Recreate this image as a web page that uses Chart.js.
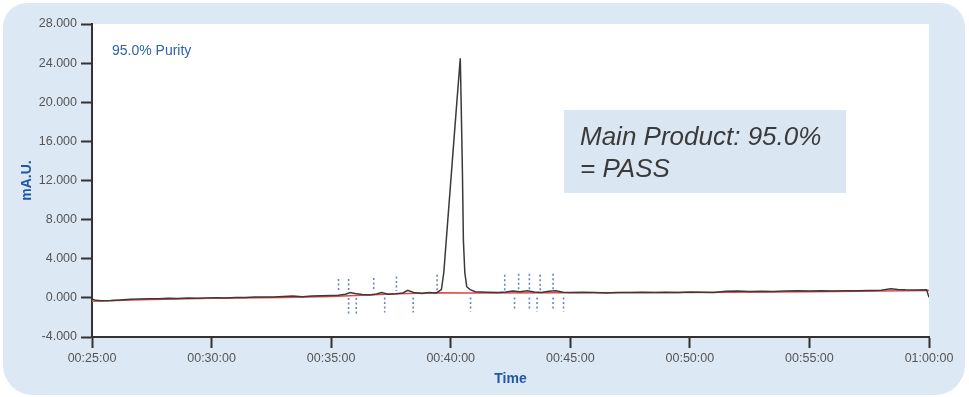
<!DOCTYPE html>
<html>
<head>
<meta charset="utf-8">
<script src="https://cdn.jsdelivr.net/npm/chart.js@4.4.1/dist/chart.umd.min.js"></script>
<style>
  html, body { margin: 0; padding: 0; background: #fff; }
  #wrap { width: 969px; height: 397px; }
</style>
</head>
<body>
<div id="wrap"><canvas id="chroma" width="969" height="397"></canvas></div>
<script>
// trace, minutes / value
const traceTime = [25.00, 25.15, 25.40, 25.80, 26.20, 26.60, 27.00, 27.40, 27.80, 28.20, 28.60, 29.00, 29.40, 29.80,
  30.20, 30.60, 31.00, 31.40, 31.80, 32.20, 32.60, 33.00, 33.40, 33.80, 34.20, 34.60, 35.00, 35.30, 35.60, 35.80,
  36.00, 36.30, 36.60, 36.90, 37.10, 37.40, 37.70, 38.00, 38.20, 38.45, 38.80, 39.10, 39.40, 39.61, 39.71, 40.03,
  40.24, 40.40, 40.43, 40.44, 40.49, 40.53, 40.59, 40.67, 40.81, 41.03, 41.50, 42.00, 42.30, 42.60, 42.90, 43.20,
  43.50, 43.80, 44.10, 44.40, 44.70, 45.00, 45.50, 46.00, 46.50, 47.00, 47.50, 48.00, 48.50, 49.00, 49.50, 50.00,
  50.50, 51.00, 51.50, 52.00, 52.50, 53.00, 53.50, 54.00, 54.50, 55.00, 55.50, 56.00, 56.50, 57.00, 57.50, 58.00,
  58.40, 58.70, 59.00, 59.50, 59.90, 60.00];
const traceValue = [-0.10, -0.25, -0.30, -0.28, -0.22, -0.15, -0.12, -0.08, -0.10, -0.05, -0.06, -0.02, -0.04, 0.00,
  0.02, 0.00, 0.05, 0.03, 0.08, 0.10, 0.08, 0.14, 0.18, 0.12, 0.20, 0.22, 0.25, 0.28, 0.38, 0.55,
  0.45, 0.35, 0.30, 0.40, 0.55, 0.38, 0.42, 0.50, 0.78, 0.55, 0.45, 0.55, 0.50, 0.84, 2.57, 12.8,
  19.5, 24.5, 24.5, 19.5, 12.8, 5.9, 2.57, 1.14, 0.84, 0.62, 0.58, 0.55, 0.60, 0.70, 0.62, 0.72,
  0.60, 0.55, 0.68, 0.72, 0.58, 0.55, 0.58, 0.55, 0.50, 0.56, 0.54, 0.57, 0.55, 0.58, 0.56, 0.60,
  0.58, 0.55, 0.68, 0.70, 0.65, 0.68, 0.66, 0.70, 0.72, 0.70, 0.72, 0.70, 0.74, 0.72, 0.75, 0.78,
  0.92, 0.85, 0.82, 0.80, 0.82, 0.05];

// baseline (red)
const baseTime = [25.0, 27.0, 30.0, 33.0, 35.0, 37.8, 39.5, 41.0, 45.0, 50.0, 55.0, 60.0];
const baseValue = [-0.35, -0.20, -0.05, 0.05, 0.15, 0.43, 0.52, 0.50, 0.52, 0.55, 0.62, 0.75];

// integration markers
const upperTime = [35.31, 35.73, 36.78, 37.73, 39.43, 42.26, 42.84, 43.29, 43.74, 44.28];
const upperTop = [1.93, 1.93, 2.03, 2.19, 2.37, 2.37, 2.47, 2.47, 2.37, 2.47];
const upperBottom = [0.6, 0.6, 0.65, 0.7, 0.7, 0.7, 0.75, 0.75, 0.75, 0.75];
const lowerTime = [35.73, 36.05, 37.24, 38.43, 40.83, 42.67, 43.29, 43.61, 44.28, 44.72];
const lowerTop = [0.0, 0.0, 0.05, 0.05, 0.05, 0.05, 0.05, 0.05, 0.05, 0.05];
const lowerBottom = [-1.75, -1.75, -1.5, -1.5, -1.4, -1.25, -1.35, -1.4, -1.35, -1.4];

const yTicks = [-4, 0, 4, 8, 12, 16, 20, 24, 28];

const pts = (xs, ys) => xs.map((x, i) => ({x: x, y: ys[i]}));
function markers(times, tops, bottoms) {
  const out = [];
  times.forEach((t, i) => {
    out.push({x: t, y: tops[i]}, {x: t, y: bottoms[i]}, {x: t, y: null});
  });
  return out;
}

function fmtTime(v) {
  const h = Math.floor(v / 60), m = Math.round(v % 60);
  const p = n => String(n).padStart(2, '0');
  return p(h) + ':' + p(m) + ':00';
}

const bgPlugin = {
  id: 'bg',
  beforeDraw(chart) {
    const ctx = chart.ctx, a = chart.chartArea;
    ctx.save();
    ctx.fillStyle = '#fff';
    ctx.fillRect(0, 0, chart.width, chart.height);
    ctx.fillStyle = '#dde8f5';
    ctx.beginPath();
    ctx.roundRect(3, 3, 962, 392, [24, 24, 30, 30]);
    ctx.fill();
    ctx.fillStyle = '#fff';
    ctx.fillRect(a.left, a.top, a.right - a.left, a.bottom - a.top);
    ctx.restore();
  },
  afterDatasetsDraw(chart) {
    const ctx = chart.ctx, a = chart.chartArea;
    ctx.save();
    ctx.fillStyle = '#2f63ad';
    ctx.font = '14px "Liberation Sans", Arial, sans-serif';
    ctx.textBaseline = 'middle';
    ctx.fillText('95.0% Purity', a.left + 20, a.top + 27);
    ctx.fillStyle = '#dbe6f3';
    ctx.fillRect(564, 110, 282, 83);
    ctx.fillStyle = '#3a3a3a';
    ctx.font = 'italic 26px "Liberation Sans", Arial, sans-serif';
    ctx.textBaseline = 'alphabetic';
    ctx.fillText('Main Product: 95.0%', 580, 145);
    ctx.fillText('= PASS', 580, 177);
    ctx.restore();
  }
};

new Chart(document.getElementById('chroma'), {
  type: 'scatter',
  data: {
    datasets: [
      {
        label: 'baseline',
        data: pts(baseTime, baseValue),
        showLine: true,
        borderColor: '#e8474a',
        borderWidth: 1.5,
        pointRadius: 0,
        order: 3
      },
      {
        label: 'trace',
        data: pts(traceTime, traceValue),
        showLine: true,
        borderColor: '#3a3a3a',
        borderWidth: 1.5,
        pointRadius: 0,
        order: 2
      },
      {
        label: 'upper',
        data: markers(upperTime, upperTop, upperBottom),
        showLine: true,
        spanGaps: false,
        borderColor: '#6a82d2',
        borderWidth: 1.6,
        borderDash: [2, 2.5],
        pointRadius: 0,
        order: 1
      },
      {
        label: 'lower',
        data: markers(lowerTime, lowerTop, lowerBottom),
        showLine: true,
        spanGaps: false,
        borderColor: '#6a82d2',
        borderWidth: 1.6,
        borderDash: [2, 2.5],
        pointRadius: 0,
        order: 1
      }
    ]
  },
  options: {
    responsive: false,
    animation: false,
    layout: { padding: { left: 0, right: 40, top: 24, bottom: 0 } },
    plugins: { legend: { display: false }, tooltip: { enabled: false } },
    scales: {
      x: {
        type: 'linear',
        min: 25,
        max: 60,
        afterFit: s => { s.height = 60; },
        ticks: {
          stepSize: 5,
          padding: 3,
          color: '#555',
          font: { family: '"Liberation Sans", Arial, sans-serif', size: 12.5 },
          callback: v => fmtTime(v),
          maxRotation: 0
        },
        grid: { drawOnChartArea: false, tickLength: 11, color: '#333', tickWidth: 2 },
        border: { color: '#333', width: 2 },
        title: {
          display: true,
          text: 'Time',
          color: '#1f56a6',
          font: { family: '"Liberation Sans", Arial, sans-serif', size: 14, weight: 'bold' },
          padding: { top: 0, bottom: 9.6 }
        }
      },
      y: {
        min: -4,
        max: 28,
        afterFit: s => { s.width = 92; },
        afterBuildTicks: s => { s.ticks = yTicks.map(v => ({value: v})); },
        ticks: {
          padding: 4,
          color: '#555',
          font: { family: '"Liberation Sans", Arial, sans-serif', size: 12.5 },
          callback: v => v.toFixed(3)
        },
        grid: { drawOnChartArea: false, tickLength: 11, color: '#333', tickWidth: 2 },
        border: { color: '#333', width: 2 },
        title: {
          display: true,
          text: 'mA.U.',
          color: '#1f56a6',
          font: { family: '"Liberation Sans", Arial, sans-serif', size: 14, weight: 'bold' },
          padding: { top: 18.6, bottom: 0 }
        }
      }
    }
  },
  plugins: [bgPlugin]
});
</script>
</body>
</html>
